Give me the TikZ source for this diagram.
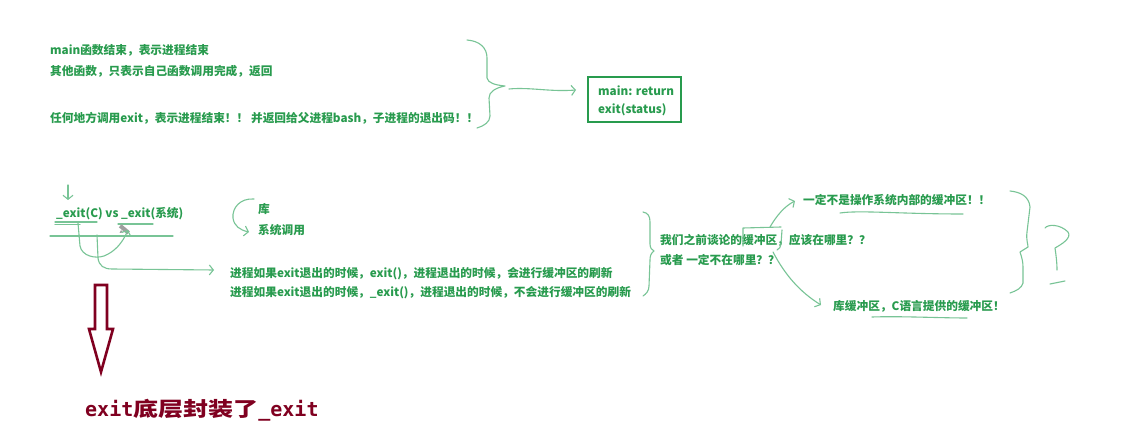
\documentclass[tikz,border=0pt]{standalone}
\usepackage{fontspec}
\usepackage{graphicx}
\setmainfont{Noto Sans CJK SC}
\newfontfamily\redmono{DejaVu Sans Mono}
\usetikzlibrary{arrows.meta}
\definecolor{tgreen}{RGB}{40,155,78}
\definecolor{hgreen}{RGB}{120,196,150}
\definecolor{dred}{RGB}{128,0,32}
\tikzset{
  gtext/.style={text=tgreen, font=\bfseries\fontsize{11.7}{14}\selectfont, anchor=west, inner sep=0pt},
  hand/.style={draw=hgreen, line width=1.1pt, line cap=round, line join=round},
  barb/.style={-{Straight Barb[length=4pt,width=10pt]}},
  gbox/.style={draw=tgreen, line width=2.6pt, minimum width=93pt, minimum height=45pt, inner sep=0pt},
  bigarrow/.style={draw=dred, line width=2.6pt, line join=miter},
  redtext/.style={text=dred, font=\fontsize{20}{22}\selectfont, anchor=west, inner sep=0pt}
}
\begin{document}
\begin{tikzpicture}[x=1pt,y=-1pt]
\useasboundingbox[fill=white] (0,0) rectangle (1140,438);

% top block
\node[gtext] (t1) at (50,50) {main函数结束，表示进程结束};
\node[gtext] (t2) at (50,71) {其他函数，只表示自己函数调用完成，返回};
\node[gtext] (t3) at (50,118) {任何地方调用exit，表示进程结束！！ 并返回给父进程bash，子进程的退出码！！};
\coordinate (b1tip) at (505,86);
\draw[hand] (467,40) .. controls (480,41) and (487,48) .. (487,58) -- (487,78)
  .. controls (488,83) and (495,85) .. (b1tip) .. controls (495,88) and (489,92) .. (489,98)
  -- (490,116) .. controls (490,122) and (484,126) .. (477,128);
\node[gbox] (box) at (634.5,99.5) {};
\node[gtext] (bx1) at (598,91) {main: return};
\node[gtext] (bx2) at (598,110) {exit(status)};
\coordinate (boxin) at (576,90);
\draw[hand,barb] (509,89) .. controls (530,87) and (550,92) .. (boxin);

% exit vs _exit
\coordinate (da) at (68,185);
\coordinate (db) at (68,200);
\draw[hand,barb] (da) -- (db);
\node[gtext] (e1) at (56,214) {\_exit(C) vs \_exit(系统)};
\draw[hand] (55,222) -- (97,222);
\draw[hand] (55,224.5) -- (80,224.5);
\draw[hand] (118,224) -- (153,224);
\draw[hand] (50,236) -- (173,236);
\coordinate (pen) at (128,230);
\fill[gray!75, rotate around={-40:(124,229)}] (119,227) rectangle (130,231);
\fill[gray!75] (119.5,233) -- (121,230) -- (123,232.5) -- cycle;
\draw[hand,barb] (78,223) -- (80,246) .. controls (82,256) and (95,259) .. (104,256)
  .. controls (114,252) and (122,244) .. (pen);
\coordinate (pstart) at (97,235);
\draw[hand,barb] (pstart) -- (98,258) .. controls (99,266) and (104,269) .. (112,269) -- (214,270);

\node[gtext] (lib) at (258,209) {库};
\node[gtext] (sys) at (258,230) {系统调用};
\draw[hand,barb] (254,199) .. controls (240,198) and (232,208) .. (233,218)
  .. controls (234,226) and (240,230) .. (249,232);

\node[gtext] (p1) at (230,274) {进程如果exit退出的时候，exit()，进程退出的时候，会进行缓冲区的刷新};
\node[gtext] (p2) at (230,293) {进程如果exit退出的时候，\_exit()，进程退出的时候，不会进行缓冲区的刷新};

% buffer question
\draw[hand] (643,212) .. controls (648,213) and (650,216) .. (650,222) -- (650,244)
  .. controls (650,248) and (652,250) .. (654,251) .. controls (651,253) and (650,256) .. (650,260)
  -- (649,286) .. controls (649,291) and (646,294) .. (643,296);
\node[gtext] (q1) at (660,240) {我们之前谈论的缓冲区，应该在哪里？？};
\node[gtext] (q2) at (660,260) {或者 一定不在哪里？？};
\draw[hand] (743,246) -- (743,228) -- (781,227);
\draw[hand] (782,230) -- (781,244) .. controls (781,247) and (779,249) .. (777,250);
\node[gtext] (r1) at (803,200) {一定不是操作系统内部的缓冲区！！};
\node[gtext] (r2) at (833,306) {库缓冲区，C语言提供的缓冲区！};
\coordinate (up1) at (770,227);
\coordinate (up2) at (795,201);
\draw[hand,barb] (up1) .. controls (777,215) and (785,206) .. (up2);
\coordinate (dn1) at (773,252);
\coordinate (dn2) at (821,305);
\draw[hand,barb] (dn1) .. controls (785,275) and (800,292) .. (dn2);
\draw[hand] (840,213) .. controls (860,210) and (900,214) .. (963,214);
\draw[hand] (872,317) .. controls (900,316) and (940,318) .. (967,318);
\draw[hand] (1010,191) .. controls (1020,192) and (1029,196) .. (1030,207) -- (1027,232)
  .. controls (1026,240) and (1028,244) .. (1028,247) -- (1020,252)
  .. controls (1022,258) and (1023,262) .. (1023,267) -- (1023,283)
  .. controls (1022,288) and (1016,291) .. (1010,293);
\draw[hand] (1045,228) .. controls (1048,224) and (1060,224) .. (1068,232)
  .. controls (1072,238) and (1062,244) .. (1055,248) .. controls (1056,255) and (1057,262) .. (1057,270);
\draw[hand] (1050,284) -- (1065,281);

% red arrow and text
\draw[bigarrow] (95,285) -- (107,285) -- (107,329) -- (113,329) -- (101,372) -- (89,329) -- (95,329) -- cycle;
\node[redtext] (rt) at (85,410) {{\redmono\bfseries exit}\scalebox{1.25}[1]{\bfseries 底层封装了}{\redmono\bfseries \_exit}};
\end{tikzpicture}
\end{document}
